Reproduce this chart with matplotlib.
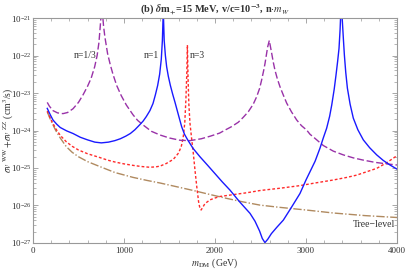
import numpy as np
import matplotlib
matplotlib.use("Agg")
import matplotlib.pyplot as plt
from matplotlib.ticker import LogLocator, MultipleLocator, NullFormatter, FixedLocator

plt.rcParams['font.family'] = ['Liberation Serif', 'DejaVu Serif']
plt.rcParams['mathtext.fontset'] = 'stix'

# n = 1/3 (purple dashed): m_DM (GeV), log10(sigma v)
m_p = [157, 180, 220, 270, 330, 380, 440, 500, 550, 600, 640, 678, 705, 725, 740, 752, 762, 775,
       790, 820, 850, 879, 920, 970, 1026, 1099, 1150, 1209, 1300, 1396, 1500, 1615, 1725, 1850,
       1950, 2050, 2110, 2180, 2256, 2310, 2366, 2420, 2458, 2490, 2513, 2535, 2550, 2565, 2579,
       2597, 2610, 2623, 2640, 2659, 2685, 2714, 2750, 2788, 2840, 2898, 2950, 3008, 3044, 3099,
       3190, 3300, 3410, 3520, 3630, 3760, 3887, 4000]
l_p = [-23.25, -23.35, -23.47, -23.53, -23.55, -23.52, -23.42, -23.25, -23.05, -22.82, -22.6,
       -22.3, -22.0, -21.65, -21.2, -20.8, -20.8, -21.2, -21.5, -21.95, -22.25, -22.5, -22.8,
       -23.07, -23.32, -23.58, -23.73, -23.85, -24.02, -24.12, -24.2, -24.26, -24.27, -24.22,
       -24.15, -24.07, -23.99, -23.9, -23.78, -23.65, -23.5, -23.3, -23.1, -22.88, -22.65, -22.4,
       -22.21, -21.98, -21.77, -21.6, -21.77, -21.94, -22.17, -22.39, -22.62, -22.83, -23.05,
       -23.27, -23.5, -23.72, -23.87, -23.99, -24.1, -24.21, -24.4, -24.55, -24.65, -24.73,
       -24.79, -24.85, -24.89, -24.92]

# n = 1 (blue solid)
m_b = [157, 190, 220, 260, 300, 370, 440, 520, 600, 680, 751, 830, 900, 960, 1020, 1070, 1120,
       1172, 1210, 1245, 1285, 1319, 1345, 1370, 1392, 1410, 1422, 1432, 1442, 1455, 1469, 1487,
       1510, 1535, 1561, 1600, 1634, 1665, 1700, 1760, 1835, 1920, 2000, 2080, 2165, 2270, 2385,
       2440, 2490, 2520, 2549, 2580, 2620, 2680, 2751, 2840, 2934, 3000, 3044, 3100, 3154, 3190,
       3227, 3260, 3283, 3310, 3330, 3348, 3363, 3375, 3383, 3392, 3400, 3412, 3422, 3437, 3455,
       3485, 3520, 3570, 3630, 3700, 3777, 3850, 3923, 4000]
l_b = [-23.41, -23.58, -23.72, -23.83, -23.92, -24.01, -24.08, -24.18, -24.25, -24.31, -24.33,
       -24.31, -24.27, -24.22, -24.15, -24.08, -23.98, -23.85, -23.75, -23.63, -23.47, -23.28,
       -23.05, -22.8, -22.5, -22.1, -21.6, -20.8, -21.6, -22.0, -22.3, -22.55, -22.8, -23.03,
       -23.25, -23.6, -23.9, -24.1, -24.25, -24.48, -24.7, -24.93, -25.15, -25.37, -25.59, -25.9,
       -26.21, -26.42, -26.68, -26.88, -26.99, -26.9, -26.75, -26.58, -26.39, -26.05, -25.68,
       -25.32, -25.1, -24.82, -24.47, -24.2, -23.94, -23.62, -23.32, -22.9, -22.52, -22.15,
       -21.81, -21.3, -20.8, -20.8, -21.1, -21.6, -21.99, -22.45, -22.87, -23.3, -23.67, -23.98,
       -24.25, -24.46, -24.65, -24.8, -24.92, -25.03]

# n = 3 (red dashed)
m_r = [157, 200, 250, 300, 366, 430, 500, 600, 733, 820, 900, 1000, 1099, 1190, 1282, 1350,
       1396, 1465, 1542, 1600, 1630, 1650, 1668, 1680, 1690, 1697, 1704, 1713, 1725, 1745, 1762,
       1780, 1800, 1820, 1835, 1848, 1865, 1890, 1945, 2000, 2055, 2201, 2350, 2497, 2714, 2934,
       3100, 3300, 3450, 3557, 3667, 3777, 3887, 4000]
l_r = [-23.48, -23.72, -23.95, -24.13, -24.3, -24.42, -24.52, -24.62, -24.72, -24.79, -24.84,
       -24.89, -24.93, -24.96, -24.98, -24.97, -24.95, -24.88, -24.77, -24.6, -24.42, -24.2,
       -23.8, -23.2, -22.5, -21.72, -22.6, -23.3, -23.8, -24.25, -24.61, -25.05, -25.5, -25.9,
       -26.08, -26.12, -26.05, -25.95, -25.85, -25.8, -25.76, -25.71, -25.66, -25.6, -25.54,
       -25.47, -25.4, -25.32, -25.25, -25.19, -25.1, -25.01, -24.86, -24.67]

# tree level (brown dash-dot)
m_t = [157, 180, 200, 250, 300, 366, 430, 500, 600, 733, 900, 1099, 1250, 1396, 1580, 1762,
       1950, 2128, 2300, 2495, 2714, 3000, 3300, 3650, 4000]
l_t = [-23.5, -23.64, -23.75, -24.0, -24.2, -24.43, -24.58, -24.7, -24.83, -24.96, -25.12,
       -25.25, -25.33, -25.4, -25.5, -25.6, -25.71, -25.81, -25.9, -25.99, -26.05, -26.12, -26.2,
       -26.27, -26.32]

x_ticks = [0, 1000, 2000, 3000, 4000]

fig = plt.figure(figsize=(4.07, 2.69), dpi=100)
ax = fig.add_axes([0.081, 0.0967, 0.8944, 0.8363])

ax.plot(m_t, 10.0 ** np.array(l_t), color='#b08a60', lw=1.0, dashes=(6, 1.5, 1, 1.5))
ax.plot(m_r, 10.0 ** np.array(l_r), color='#ff2a2a', lw=1.0, dashes=(2, 1.5))
ax.plot(m_p, 10.0 ** np.array(l_p), color='#9932a8', lw=1.0, dashes=(5, 2))
ax.plot(m_b, 10.0 ** np.array(l_b), color='#1a1aff', lw=1.0)

ax.set_yscale('log')
ax.set_xlim(0, 4000)
ax.set_ylim(1e-27, 1e-21)

ax.xaxis.set_major_locator(FixedLocator(x_ticks))
ax.xaxis.set_minor_locator(MultipleLocator(200))
ax.yaxis.set_major_locator(LogLocator(base=10, numticks=10))
ax.yaxis.set_minor_locator(LogLocator(base=10, subs=np.arange(2, 10), numticks=20))
ax.yaxis.set_minor_formatter(NullFormatter())

frame_col = '#999999'
for s in ax.spines.values():
    s.set_color(frame_col)
    s.set_linewidth(0.8)
ax.tick_params(which='both', direction='in', top=True, right=True, colors=frame_col,
               labelcolor='#333333', labelsize=6.5)
ax.tick_params(which='major', length=3.5, width=0.6)
ax.tick_params(which='minor', length=2, width=0.5)
ax.tick_params(axis='y', pad=1)
ax.tick_params(axis='x', pad=3)

ax.text(571, 10 ** -21.99, 'n=1/3', ha='center', va='center', fontsize=7, color='#333333')
ax.text(1305, 10 ** -21.99, 'n=1', ha='center', va='center', fontsize=7, color='#333333')
ax.text(1725, 10 ** -21.99, 'n=3', ha='left', va='center', fontsize=7, color='#333333')
ax.text(3975, 10 ** -26.52, 'Tree\u2212level', ha='right', va='center', fontsize=7, color='#333333')

ax.set_xlabel(r'$m_{\mathrm{DM}}$ (GeV)', fontsize=7, color='#333333', va='center')
ax.xaxis.set_label_coords(0.5, -0.088)
ax.set_ylabel(r'$\sigma v^{\ \mathrm{WW}}\!+\!\sigma v^{\ \mathrm{ZZ}}$ (cm$^3$/s)', fontsize=7,
              color='#333333', va='center')
ax.yaxis.set_label_coords(-0.066, 0.5)
ax.set_title(r'(b) $\boldsymbol{\delta}$m$_{\mathbf{+}}$=15 MeV, v/c=10$^{\mathbf{-3}}$, n$\cdot$$\boldsymbol{m_W}$',
             fontsize=7.5, fontweight='bold', color='#333333', pad=4)

fig.savefig('out.png', dpi=100)
